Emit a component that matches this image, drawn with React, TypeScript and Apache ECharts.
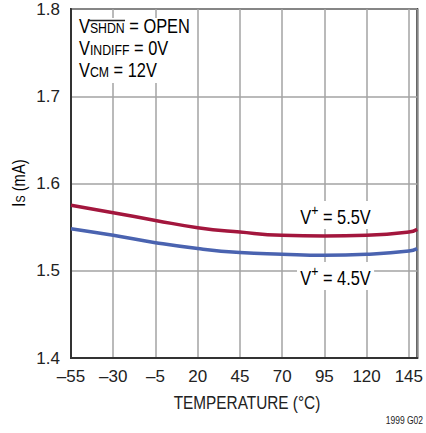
import React, { useEffect, useRef } from "react";
import * as echarts from "echarts";

const temps = [-55, -30, -5, 20, 45, 70, 95, 120, 145, 150];
const is55 = [1.575, 1.5665, 1.5577, 1.5494, 1.5443, 1.5406, 1.5398, 1.5406, 1.5443, 1.5474];
const is45 = [1.5482, 1.5406, 1.5322, 1.5254, 1.5208, 1.5189, 1.5177, 1.5189, 1.5226, 1.5254];
const seriesNames = ["V+ = 5.5V", "V+ = 4.5V"];

const FONT = "'Liberation Sans', Arial, sans-serif";
const TXT = "#222";
const SX = 0.82;

export default function App() {
  const ref = useRef<HTMLDivElement>(null);
  useEffect(() => {
    if (!ref.current) return;
    const chart = echarts.init(ref.current, null, { renderer: "svg" });
    const rich = {
      v: { fontSize: 20, fontFamily: FONT, color: TXT, verticalAlign: "bottom", lineHeight: 22 },
      s: { fontSize: 15, fontFamily: FONT, color: TXT, verticalAlign: "bottom", lineHeight: 20 },
      p: { fontSize: 15, fontFamily: FONT, color: TXT, verticalAlign: "top", lineHeight: 24 },
    };
    chart.setOption({
      animation: false,
      backgroundColor: "#fff",
      grid: {
        left: 71, right: 4, top: 9, bottom: 75,
        show: true, borderColor: "#333", borderWidth: 2, containLabel: false,
      },
      xAxis: {
        type: "value", min: -55, max: 150, interval: 25,
        axisLine: { show: true, onZero: false, lineStyle: { color: "#333", width: 2 } },
        axisTick: { show: false },
        splitLine: { show: true, lineStyle: { color: "#a3a3a3", width: 1.5 } },
        axisLabel: {
          showMaxLabel: false, color: TXT, fontSize: 17, fontFamily: FONT, margin: 10,
          formatter: (v: number) => (v < 0 ? "\u2013" + Math.abs(v) : String(v)),
        },
      },
      yAxis: {
        type: "value", min: 1.4, max: 1.8, interval: 0.1,
        axisLine: { show: true, onZero: false, lineStyle: { color: "#333", width: 2 } },
        axisTick: { show: false },
        splitLine: { show: true, lineStyle: { color: "#a3a3a3", width: 1.5 } },
        axisLabel: { color: TXT, fontSize: 17, fontFamily: FONT, margin: 11, formatter: (v: number) => v.toFixed(1) },
      },
      series: [
        {
          name: seriesNames[0], type: "line", smooth: true, showSymbol: false,
          data: temps.map((t, i) => [t, is55[i]]),
          lineStyle: { color: "#a3163d", width: 3.5 }, itemStyle: { color: "#a3163d" },
        },
        {
          name: seriesNames[1], type: "line", smooth: true, showSymbol: false,
          data: temps.map((t, i) => [t, is45[i]]),
          lineStyle: { color: "#4a63b0", width: 3.5 }, itemStyle: { color: "#4a63b0" },
        },
      ],
      graphic: [
        { type: "rect", z: 10, shape: { x: 73, y: 18, width: 123, height: 65 }, style: { fill: "#fff" } },
        { type: "text", z: 11, x: 79, y: 25, scaleX: SX, style: { text: "{v|V}{s|SHDN}{v| = OPEN}", rich, verticalAlign: "middle" } },
        { type: "line", z: 12, shape: { x1: 89, y1: 20.5, x2: 125, y2: 20.5 }, style: { stroke: TXT, lineWidth: 1.3 } },
        { type: "text", z: 11, x: 79, y: 47, scaleX: SX, style: { text: "{v|V}{s|INDIFF}{v| = 0V}", rich, verticalAlign: "middle" } },
        { type: "text", z: 11, x: 79, y: 69, scaleX: SX, style: { text: "{v|V}{s|CM}{v| = 12V}", rich, verticalAlign: "middle" } },
        {
          type: "text", z: 11, x: 297, y: 215, scaleX: SX,
          style: { text: "{v|V}{p|+}{v| = 5.5V}", rich, verticalAlign: "middle", backgroundColor: "#fff", padding: [2, 4, 2, 4] },
        },
        {
          type: "text", z: 11, x: 297, y: 276, scaleX: SX,
          style: { text: "{v|V}{p|+}{v| = 4.5V}", rich, verticalAlign: "middle", backgroundColor: "#fff", padding: [2, 4, 2, 4] },
        },
        {
          type: "text", z: 11, x: 247, y: 403, scaleX: 0.83,
          style: { text: "TEMPERATURE (\u00b0C)", fontSize: 18.5, fontFamily: FONT, fill: TXT, align: "center", verticalAlign: "middle" },
        },
        {
          type: "text", z: 11, x: 17.5, y: 183, rotation: Math.PI / 2, scaleX: SX,
          style: {
            text: "{v|I}{s|S}{v| (mA)}", align: "center", verticalAlign: "middle",
            rich: {
              v: { fontSize: 18, fontFamily: FONT, color: TXT, verticalAlign: "bottom", lineHeight: 20 },
              s: { fontSize: 13, fontFamily: FONT, color: TXT, verticalAlign: "bottom", lineHeight: 18 },
            },
          },
        },
        {
          type: "text", z: 11, x: 423, y: 421, scaleX: 0.85,
          style: { text: "1999 G02", fontSize: 10, fontFamily: FONT, fill: TXT, align: "right", verticalAlign: "middle" },
        },
      ],
    });
    return () => chart.dispose();
  }, []);
  return <div ref={ref} style={{ position: "fixed", left: 0, top: 0, width: 426, height: 433 }} />;
}
